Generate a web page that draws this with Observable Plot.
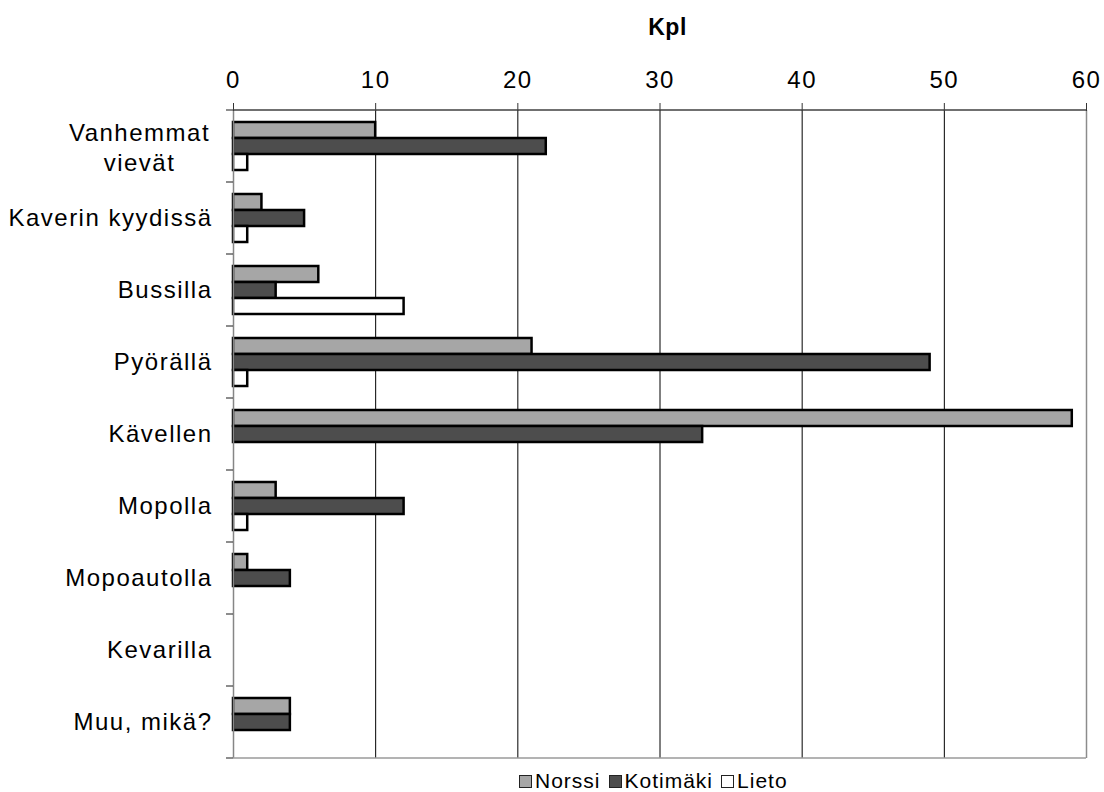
<!DOCTYPE html>
<html><head><meta charset="utf-8">
<script src="https://cdn.jsdelivr.net/npm/d3@7"></script>
<script src="https://cdn.jsdelivr.net/npm/@observablehq/plot@0.6"></script>
<style>
html,body{margin:0;padding:0;background:#fff;font-family:"Liberation Sans",Arial,sans-serif;overflow:hidden;}
#chart svg{display:block;}
#chart svg text{letter-spacing:1.5px;}
#legend{position:absolute;left:519px;top:771px;height:20px;line-height:20px;font-size:21px;color:#000;white-space:nowrap;letter-spacing:1px;}
#legend .sw{display:inline-block;width:11px;height:11px;border:1.5px solid #222;margin-right:3px;vertical-align:0px;}
#legend .item{margin-right:8px;}
</style>
</head><body>
<div id="chart"></div>
<div id="legend"></div>
<script>
const categories = ["Vanhemmat vievät","Kaverin kyydissä","Bussilla","Pyörällä","Kävellen","Mopolla","Mopoautolla","Kevarilla","Muu, mikä?"];
const series = ["Norssi","Kotimäki","Lieto"];
const norssi   = [10, 2, 6, 21, 59, 3, 1, 0, 4];
const kotimaki = [22, 5, 3, 49, 33, 12, 4, 0, 4];
const lieto    = [1, 1, 12, 1, 0, 1, 0, 0, 0];
const xTicks = [0, 10, 20, 30, 40, 50, 60];
const colors = ["#a6a6a6", "#4d4d4d", "#ffffff"];
const chartTitle = "Kpl";

const valuesBySeries = [norssi, kotimaki, lieto];
const data = [];
categories.forEach((c, i) => series.forEach((s, j) => {
  const v = valuesBySeries[j][i];
  if (v > 0) data.push({category: c, series: s, value: v});
}));
const multiLine = {"Vanhemmat vievät": "Vanhemmat\nvievät"};
const singleLabels = categories.filter(c => !multiLine[c]);
const multiLabels = categories.filter(c => multiLine[c]);

const W = 1104, H = 770;
const plot = Plot.plot({
  width: W, height: H,
  marginLeft: 233, marginRight: 18, marginTop: 110, marginBottom: 12,
  style: {fontFamily: "'Liberation Sans', Arial, sans-serif", fontSize: "24px", color: "#000", background: "#fff"},
  x: {domain: [0, 60], axis: null},
  fy: {domain: categories, padding: 0, axis: null},
  y: {domain: series, paddingInner: 0, paddingOuter: 0.72, axis: null},
  color: {domain: series, range: colors},
  marks: [
    Plot.ruleX(xTicks.filter(t => t > 0 && t < 60), {stroke: "#000", strokeWidth: 1}),
    Plot.ruleX([60], {stroke: "#8c8c8c", strokeWidth: 1.5}),
    Plot.barX(data, {x: "value", y: "series", fy: "category", fill: "series", stroke: "#000", strokeWidth: 2.5}),
    Plot.ruleX([0], {stroke: "#868686", strokeWidth: 1.5}),
    Plot.text(singleLabels, {fy: d => d, text: d => d, frameAnchor: "left", textAnchor: "end", dx: -21, fontSize: 24, fill: "#000"}),
    Plot.text(multiLabels, {fy: d => d, text: d => multiLine[d], frameAnchor: "left", textAnchor: "middle", dx: -94, lineHeight: 1.25, fontSize: 24, fill: "#000"}),
    Plot.axisX({anchor: "top", ticks: xTicks, tickSize: 8, tickPadding: 15, fontSize: 24, label: null, stroke: "#333", tickFormat: d => String(d)})
  ]
});
document.getElementById("chart").appendChild(plot);

// Decorations derived from scales
const svg = d3.select(plot);
const xs = plot.scale("x");
let yTop = 110, yBottom = H - 12, bounds = [];
try {
  const fy = plot.scale("fy");
  const starts = categories.map(c => fy.apply(c));
  const step = fy.step || (starts[1] - starts[0]);
  if (!isFinite(starts[0]) || !isFinite(step)) throw new Error("bad");
  yTop = starts[0];
  yBottom = starts[starts.length - 1] + step;
  bounds = starts.concat([yBottom]);
} catch (e) {
  const step = (yBottom - yTop) / categories.length;
  bounds = d3.range(categories.length + 1).map(i => yTop + i * step);
}
const x0 = xs.apply(0), x60 = xs.apply(60);
const g = svg.append("g");
g.append("line").attr("x1", x0).attr("x2", x60).attr("y1", yTop).attr("y2", yTop).attr("stroke", "#404040").attr("stroke-width", 1.5);
g.append("line").attr("x1", x0).attr("x2", x60).attr("y1", yBottom).attr("y2", yBottom).attr("stroke", "#9a9a9a").attr("stroke-width", 1.5);
bounds.forEach(b => g.append("line").attr("x1", x0 - 7).attr("x2", x0).attr("y1", b).attr("y2", b).attr("stroke", "#404040").attr("stroke-width", 1.2));
g.append("text").attr("x", (x0 + x60) / 2 + 8).attr("y", 35).attr("text-anchor", "middle")
  .attr("font-weight", "bold").attr("font-size", 23).attr("fill", "#000").style("letter-spacing", "0.5px").text(chartTitle);

// Legend
const legend = d3.select("#legend");
series.forEach((s, i) => {
  const it = legend.append("span").attr("class", "item");
  it.append("span").attr("class", "sw").style("background", colors[i]);
  it.append("span").text(s);
});
</script>
</body></html>
